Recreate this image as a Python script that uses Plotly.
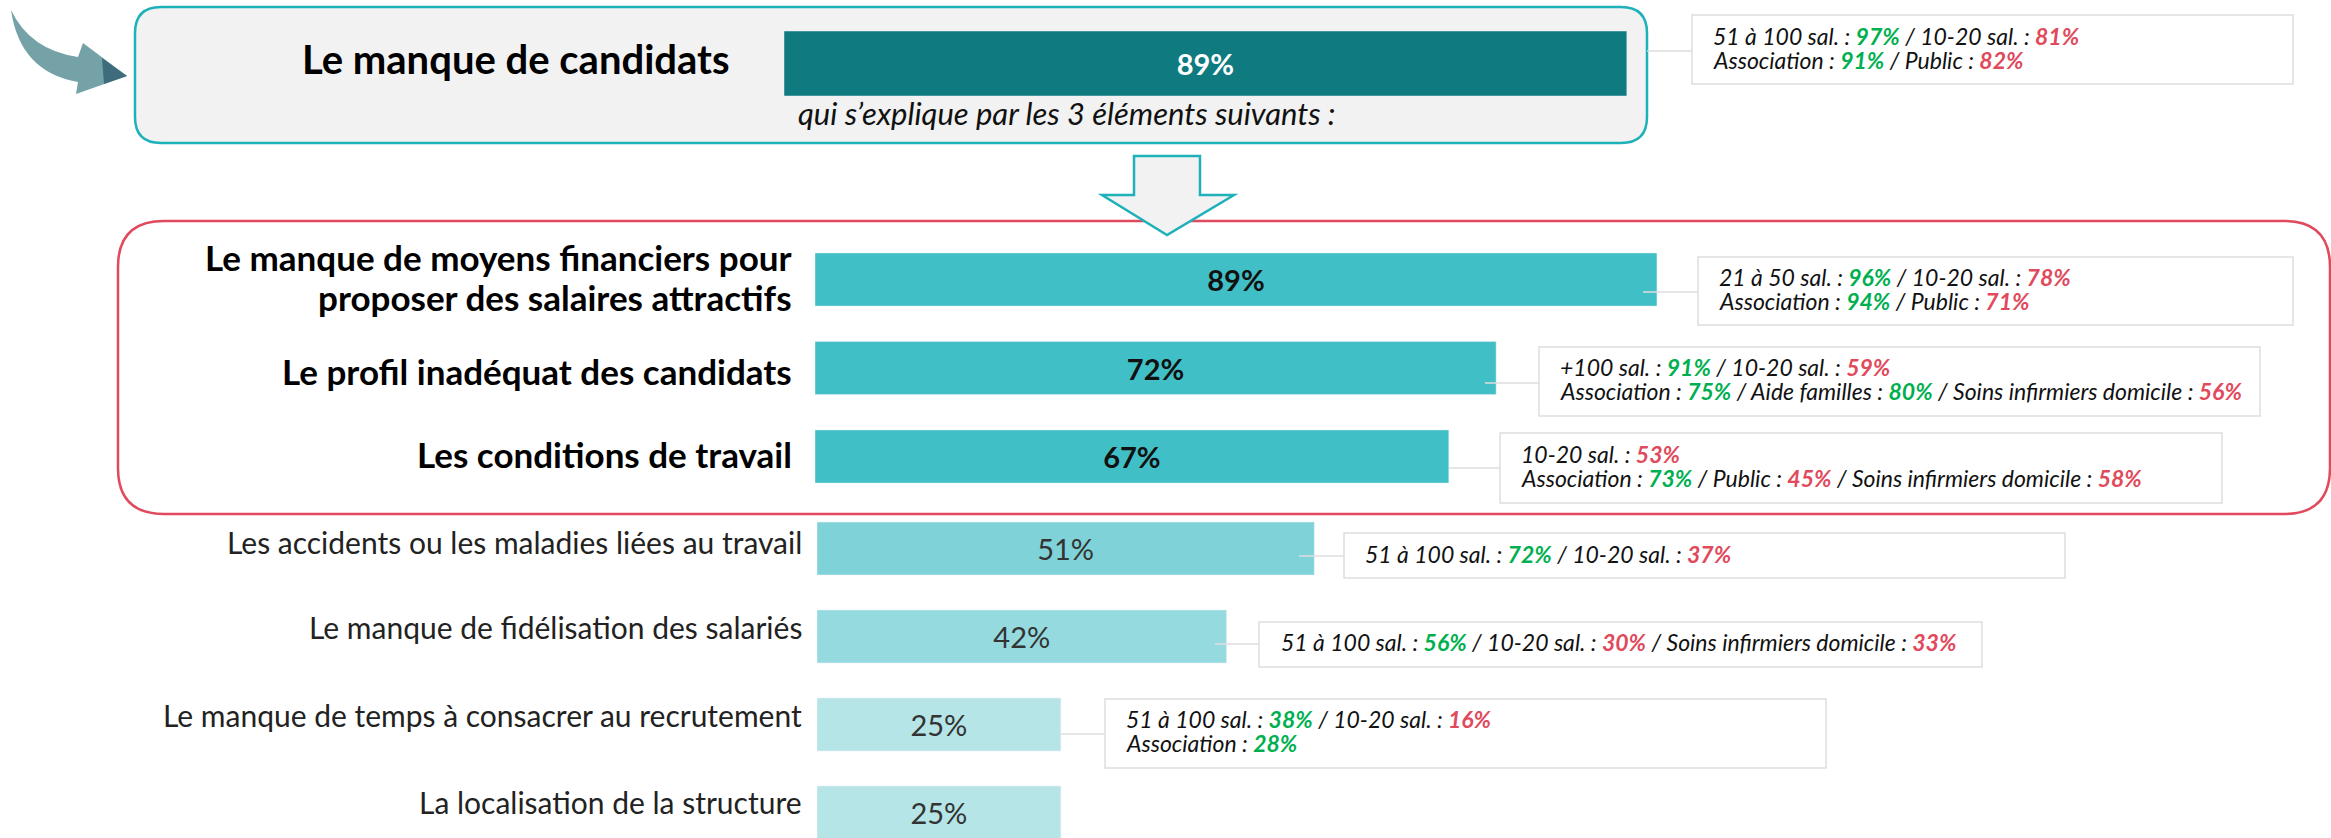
import plotly.graph_objects as go

W, H = 2331, 838
FONT = "Lato"

# ---- data ----
top_cat = ["Le manque de candidats"]
top_val = [89]
main_cat = ["Le manque de moyens financiers pour<br>proposer des salaires attractifs",
            "Le profil inadéquat des candidats",
            "Les conditions de travail"]
main_val = [89, 72, 67]
other_cat = ["Les accidents ou les maladies liées au travail",
             "Le manque de fidélisation des salariés",
             "Le manque de temps à consacrer au recrutement",
             "La localisation de la structure"]
other_val = [51, 42, 25, 25]
subtitle = "qui s’explique par les 3 éléments suivants :"

# notes: "+" = above average, "-" = below average
note_top = [[("51 à 100 sal.", 97, "+"), ("10-20 sal.", 81, "-")],
            [("Association", 91, "+"), ("Public", 82, "-")]]
note_main_1 = [[("21 à 50 sal.", 96, "+"), ("10-20 sal.", 78, "-")],
               [("Association", 94, "+"), ("Public", 71, "-")]]
note_main_2 = [[("+100 sal.", 91, "+"), ("10-20 sal.", 59, "-")],
               [("Association", 75, "+"), ("Aide familles", 80, "+"), ("Soins infirmiers domicile", 56, "-")]]
note_main_3 = [[("10-20 sal.", 53, "-")],
               [("Association", 73, "+"), ("Public", 45, "-"), ("Soins infirmiers domicile", 58, "-")]]
note_other_1 = [[("51 à 100 sal.", 72, "+"), ("10-20 sal.", 37, "-")]]
note_other_2 = [[("51 à 100 sal.", 56, "+"), ("10-20 sal.", 30, "-"), ("Soins infirmiers domicile", 33, "-")]]
note_other_3 = [[("51 à 100 sal.", 38, "+"), ("10-20 sal.", 16, "-")],
                [("Association", 28, "+")]]

# ---- helpers ----
GREEN, RED = "#00b050", "#e04a5c"
TEAL, NOTE_LINE = "#1fb1ba", "#dedede"
px = lambda x: x / W
py = lambda y: 1 - y / H


def line_html(line):
    parts = []
    for label, value, sign in line:
        col = GREEN if sign == "+" else RED
        parts.append(f"<i>{label} : </i><b><i><span style='color:{col}'>{value}%</span></i></b>")
    return "<i> / </i>".join(parts)


def rrect(x0, y0, x1, y1, r):
    X0, X1 = px(x0), px(x1)
    Y0, Y1 = py(y0), py(y1)
    rx, ry = r / W, r / H
    return (f"M{X0+rx},{Y0} L{X1-rx},{Y0} Q{X1},{Y0} {X1},{Y0-ry} L{X1},{Y1+ry} Q{X1},{Y1} {X1-rx},{Y1} "
            f"L{X0+rx},{Y1} Q{X0},{Y1} {X0},{Y1+ry} L{X0},{Y0-ry} Q{X0},{Y0} {X0+rx},{Y0} Z")


def poly(points, closed=True):
    s = "M" + " L".join(f"{px(x)},{py(y)}" for x, y in points)
    return s + (" Z" if closed else "")


fig = go.Figure()
fig.add_trace(go.Bar(x=top_val, y=top_cat, orientation="h", xaxis="x", yaxis="y", marker_color="#0f7a80",
                     text=[f"{v}%" for v in top_val], textposition="inside", insidetextanchor="middle",
                     textangle=0, constraintext="none",
                     textfont=dict(family=FONT, size=29, color="white", weight="bold"), width=1))
fig.add_trace(go.Bar(x=main_val, y=main_cat, orientation="h", xaxis="x2", yaxis="y2", marker_color="#41bfc6",
                     text=[f"{v}%" for v in main_val], textposition="inside", insidetextanchor="middle",
                     textangle=0, constraintext="none",
                     textfont=dict(family=FONT, size=29, color="#111111", weight="bold"), width=0.6))
fig.add_trace(go.Bar(x=other_val, y=other_cat, orientation="h", xaxis="x3", yaxis="y3",
                     marker_color=["#7fd3d8", "#94dadf", "#b5e5e7", "#b5e5e7"],
                     text=[f"{v}%" for v in other_val], textposition="inside", insidetextanchor="middle",
                     textangle=0, constraintext="none",
                     textfont=dict(family=FONT, size=29, color="#333333"), width=0.6))

shapes = []
# framed panels
shapes.append(dict(type="path", path=rrect(135, 7, 1647, 143, 26), fillcolor="#f2f2f2",
                   line=dict(color=TEAL, width=2.5), xref="paper", yref="paper", layer="below"))
shapes.append(dict(type="path", path=rrect(118, 221, 2330, 514, 46), fillcolor="rgba(0,0,0,0)",
                   line=dict(color=RED, width=2.5), xref="paper", yref="paper", layer="below"))
# down arrow
shapes.append(dict(type="path",
                   path=poly([(1134, 156), (1200, 156), (1200, 195), (1234, 195), (1167, 235), (1102, 195), (1134, 195)]),
                   fillcolor="#f2f2f2", line=dict(color=TEAL, width=2.5), xref="paper", yref="paper", layer="above"))
# curved arrow top left
a = lambda x, y: f"{px(x)},{py(y)}"
shapes.append(dict(type="path",
                   path=f"M{a(11,10)} Q{a(30,50)} {a(78,57)} L{a(83,43)} L{a(127,76)} L{a(76,94)} L{a(78,82)} Q{a(20,72)} {a(11,10)} Z",
                   fillcolor="#74a2a7", line=dict(width=0), xref="paper", yref="paper", layer="above"))
shapes.append(dict(type="path", path=poly([(102, 58), (127, 76), (104, 84)]),
                   fillcolor="#3f6c7c", line=dict(width=0), xref="paper", yref="paper", layer="above"))

# note boxes + connectors
note_specs = [
    (note_top, 1692, 15, 2293, 84, 1711, 48, 1647, 51),
    (note_main_1, 1698, 257, 2293, 325, 1717, 289, 1643, 292),
    (note_main_2, 1539, 347, 2260, 416, 1558, 379, 1485, 383),
    (note_main_3, 1500, 433, 2222, 503, 1519, 466, 1449, 468),
    (note_other_1, 1344, 533, 2065, 578, 1363, 554, 1299, 556),
    (note_other_2, 1259, 622, 1982, 667, 1279, 642, 1215, 644),
    (note_other_3, 1105, 699, 1826, 768, 1124, 731, 1061, 734),
]
annotations = []
for lines, x0, y0, x1, y1, tx, ty, cx, cy in note_specs:
    shapes.append(dict(type="rect", xref="paper", yref="paper", x0=px(x0), x1=px(x1), y0=py(y0), y1=py(y1),
                       fillcolor="white", line=dict(color=NOTE_LINE, width=1.5), layer="above"))
    shapes.append(dict(type="line", xref="paper", yref="paper", x0=px(cx), x1=px(x0), y0=py(cy), y1=py(cy),
                       line=dict(color=NOTE_LINE, width=1.5), layer="above"))
    for i, line in enumerate(lines):
        ly = ty + 24.5 * (i - (len(lines) - 1) / 2)
        annotations.append(dict(xref="paper", yref="paper", x=px(tx), y=py(ly), xanchor="left", yanchor="middle",
                                text=line_html(line), showarrow=False, align="left",
                                font=dict(family=FONT, size=23, color="#111111")))

# category labels
annotations.append(dict(xref="paper", yref="y", x=px(731), y=top_cat[0], xanchor="right", yanchor="middle", yshift=5,
                        text=f"<b>{top_cat[0]}</b>", showarrow=False,
                        font=dict(family=FONT, size=40, color="black")))
annotations.append(dict(xref="paper", yref="paper", x=px(796), y=py(113), xanchor="left", yanchor="middle",
                        text=f"<i>{subtitle}</i>", showarrow=False,
                        font=dict(family=FONT, size=31, color="#111111")))
for c, shift in zip(main_cat, [3, -3, 3]):
    parts = c.split("<br>")
    for i, part in enumerate(parts):
        s = shift - 40 * (i - (len(parts) - 1) / 2)
        annotations.append(dict(xref="paper", yref="y2", x=px(794), y=c, xanchor="right", yanchor="middle", yshift=s,
                                text=f"<b>{part}</b>", showarrow=False, align="right",
                                font=dict(family=FONT, size=35, color="black")))
for c, shift in zip(other_cat, [7, 9, 9, 10]):
    annotations.append(dict(xref="paper", yref="y3", x=px(804), y=c, xanchor="right", yanchor="middle", yshift=shift,
                            text=c, showarrow=False, align="right",
                            font=dict(family=FONT, size=30, color="#222222")))

ax = dict(visible=False, fixedrange=True)
fig.update_layout(
    width=W, height=H, margin=dict(l=0, r=0, t=0, b=0), showlegend=False,
    paper_bgcolor="white", plot_bgcolor="rgba(0,0,0,0)", barmode="overlay",
    shapes=shapes, annotations=annotations,
    xaxis=dict(ax, domain=[px(784), px(784 + 947)], range=[0, 100], anchor="y"),
    yaxis=dict(ax, domain=[py(96), py(31)], range=[-0.5, 0.5], type="category", anchor="x"),
    xaxis2=dict(ax, domain=[px(815), px(815 + 946)], range=[0, 100], anchor="y2"),
    yaxis2=dict(ax, domain=[py(500.75), py(235.25)], range=[2.5, -0.5], type="category",
                categoryorder="array", categoryarray=main_cat, anchor="x2"),
    xaxis3=dict(ax, domain=[px(817), px(817 + 975)], range=[0, 100], anchor="y3"),
    yaxis3=dict(ax, domain=[0, py(504.5)], range=[3.29, -0.5], type="category",
                categoryorder="array", categoryarray=other_cat, anchor="x3"),
)

fig.write_html("out.html", config=dict(displayModeBar=False),
               post_script="document.body.style.margin='0';document.body.style.overflow='hidden';")
